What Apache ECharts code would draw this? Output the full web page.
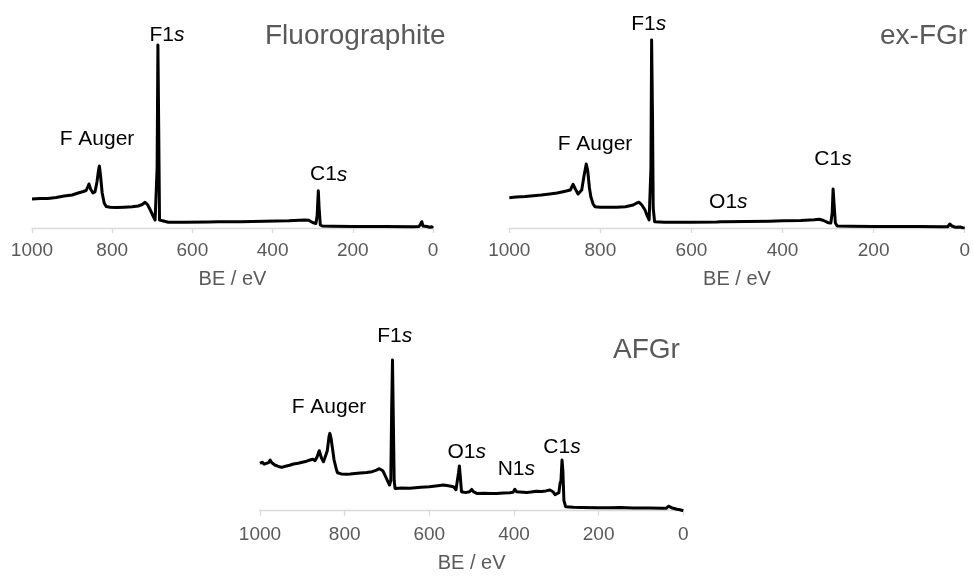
<!DOCTYPE html>
<html>
<head>
<meta charset="utf-8">
<script src="https://cdn.jsdelivr.net/npm/echarts@6/dist/echarts.min.js"></script>
<style>
  html, body { margin: 0; padding: 0; background: #fff; }
  #main { width: 973px; height: 576px; }
</style>
</head>
<body>
<div id="main"></div>
<script>
// XPS survey spectra, [BE (eV), intensity (a.u.)]
const fluorographite = [
  [1000, 29], [980, 29.5], [960, 29.5], [940, 30.5], [920, 32], [900, 33], [885, 35], [872, 36.5],
  [865, 37.5], [861, 41], [858, 44], [854, 39], [848, 35], [843, 36], [838, 46], [834, 58], [832, 62],
  [829, 52], [825, 35], [820, 25], [815, 21.5], [805, 20.7], [790, 20.5], [770, 20.8], [750, 21.2],
  [735, 22], [725, 23.5], [718, 25.7], [712, 23.5], [705, 18], [698, 12], [693, 8], [690, 10],
  [688, 60], [686, 183], [684, 100], [682, 8], [679, 6.3], [660, 5.8], [620, 5.8], [560, 6],
  [535, 6.2], [531, 7.5], [527, 6.2], [480, 6.3], [420, 6.8], [360, 7.3], [320, 8], [310, 7.8],
  [300, 5.5], [292, 4.5], [289, 12], [286, 37.3], [284, 20], [281, 3], [276, 2], [250, 1.8],
  [200, 1.6], [120, 1.4], [50, 1.3], [35, 1.5], [31, 4], [28, 6.3], [25, 2], [15, 1.5], [8, 0.8],
  [3, 1.2], [0, 0]
]
const exFGr = [
  [1000, 30.3], [985, 31], [965, 31.5], [947, 32.3], [930, 33], [911, 34], [895, 35], [882, 36.3],
  [875, 37], [871, 35.3], [866, 38], [860, 43.7], [855, 39], [849, 34], [846, 33], [841, 38],
  [836, 52], [831, 64], [828, 58], [824, 40], [821, 31.3], [816, 24], [812, 21.3], [800, 20.8],
  [780, 20.7], [764, 20.7], [745, 21.3], [728, 23], [720, 25], [715, 25.7], [709, 23], [702, 18],
  [697, 12], [693, 8], [691, 9], [689, 60], [687.5, 188], [685.5, 110], [684, 20], [681, 6.3],
  [660, 5.8], [640, 5.7], [600, 5.8], [545, 6], [535, 6.3], [531, 7.5], [527, 6.2], [480, 6.5],
  [428, 6.8], [400, 7.2], [360, 7.6], [330, 8.3], [319, 8.7], [310, 7.5], [300, 5.3], [294, 5],
  [291, 15], [289, 39], [287, 25], [284, 5], [280, 2], [250, 1.8], [200, 1.6], [150, 1.5],
  [100, 1.4], [50, 1.3], [37, 1.3], [33, 4], [31, 5.7], [28, 2], [20, 0.7], [10, 1], [5, 0.3], [0, 0]
]
const afgr = [
  [1000, 47.3], [995, 48.5], [990, 46.5], [986, 46.7], [980, 48], [976, 50.7], [972, 48], [965, 45.7],
  [958, 44.5], [949, 43.3], [940, 44.5], [930, 45.5], [921, 46.7], [910, 47.5], [900, 48.5],
  [890, 49.5], [882, 50.7], [875, 51.5], [870, 50], [865, 54], [860, 60], [855, 53], [850, 49],
  [846, 48], [841, 60], [837, 74], [835, 77.3], [832, 72], [828, 60], [825, 50.7], [820, 42],
  [817, 38], [808, 36.8], [795, 36.5], [787, 36.7], [770, 37.5], [748, 38.3], [735, 39], [725, 40.5],
  [718, 42], [715, 42.3], [710, 40], [705, 35.7], [700, 31], [694, 25.7], [691, 30], [689, 100],
  [687, 150.7], [685, 90], [683, 30], [681, 22.3], [665, 22.8], [646, 22.5], [620, 23.5], [600, 24],
  [580, 25], [567, 25.7], [555, 25], [543, 24], [537, 21], [534, 22], [531, 38], [529, 44.7],
  [527, 35], [524, 19], [518, 18.5], [512, 18.3], [505, 19], [500, 21.3], [496, 19], [488, 17.3],
  [470, 17.5], [455, 17.3], [441, 17.3], [425, 17.6], [410, 18], [402, 18.5], [398, 21.3], [394, 19],
  [390, 18], [370, 18.3], [360, 18.6], [347, 19.5], [335, 19.3], [325, 19.8], [315, 20.7], [308, 19],
  [303, 16], [299, 14], [294, 18], [291, 27.4], [289, 30], [286.5, 50.7], [284.5, 40], [282, 10],
  [278, 4], [260, 3.5], [240, 3.3], [200, 3], [173, 3], [150, 3.2], [120, 2.8], [80, 2.6], [50, 2.4],
  [40, 2.4], [35, 4.5], [32, 5.7], [28, 3], [24, 2], [15, 1.5], [8, 1], [0, 0]
]
const sampleNames = ['Fluorographite', 'ex-FGr', 'AFGr']
const beTicks = [0, 200, 400, 600, 800, 1000]

const font = 'Arial, "Liberation Sans", Helvetica, sans-serif'
const grey = '#595959'

const chart = echarts.init(document.getElementById('main'))

function xAxis(gridIndex, labelMargin, nameGap) {
  return {
    gridIndex,
    type: 'value',
    min: beTicks[0],
    max: beTicks[beTicks.length - 1],
    interval: beTicks[1] - beTicks[0],
    inverse: true,
    name: 'BE / eV',
    nameLocation: 'middle',
    nameGap,
    nameTextStyle: { color: grey, fontSize: 20, fontFamily: font },
    axisLine: { lineStyle: { color: '#d9d9d9', width: 1.3 } },
    axisTick: { show: true, length: 5, lineStyle: { color: '#d9d9d9', width: 1.3 } },
    axisLabel: {
      color: grey, fontSize: 19, fontFamily: font, margin: labelMargin,
      formatter: (v) => String(v),
    },
    splitLine: { show: false },
  }
}

function yAxis(gridIndex) {
  return { gridIndex, type: 'value', min: 0, max: 200, show: false }
}

function spectrum(idx, data) {
  return {
    type: 'line',
    xAxisIndex: idx,
    yAxisIndex: idx,
    data,
    showSymbol: false,
    symbol: 'none',
    lineStyle: { color: '#000', width: 3, join: 'round' },
    silent: true,
    animation: false,
  }
}

// peak annotation, the orbital letter in italics
const rich = {
  n: { fontSize: 21, fontFamily: font, color: '#000' },
  i: { fontSize: 21, fontFamily: font, color: '#000', fontStyle: 'italic' },
}
function peak(name, orbital, x, y) {
  return {
    type: 'text',
    x,
    y,
    style: {
      text: orbital ? `{n|${name}}{i|${orbital}}` : `{n|${name}}`,
      rich,
      align: 'center',
      verticalAlign: 'middle',
    },
  }
}
function sampleTitle(text, x, y) {
  return {
    type: 'text',
    x,
    y,
    style: { text, fill: grey, font: `28px ${font}`, align: 'left', verticalAlign: 'middle' },
  }
}

const option = {
  backgroundColor: '#fff',
  animation: false,
  grid: [
    { left: 32, top: 28, width: 401, height: 200 },
    { left: 509.3, top: 28, width: 456, height: 200 },
    { left: 260, top: 310.7, width: 423.3, height: 200 },
  ],
  xAxis: [xAxis(0, 13, 41), xAxis(1, 13, 41), xAxis(2, 15, 43)],
  yAxis: [yAxis(0), yAxis(1), yAxis(2)],
  series: [spectrum(0, fluorographite), spectrum(1, exFGr), spectrum(2, afgr)],
  graphic: [
    sampleTitle(sampleNames[0], 265, 36),
    sampleTitle(sampleNames[1], 880, 36),
    sampleTitle(sampleNames[2], 613, 350),

    peak('F1', 's', 167, 35.5),
    peak('F Auger', '', 97, 139),
    peak('C1', 's', 328.7, 174.7),

    peak('F1', 's', 648.7, 24),
    peak('F Auger', '', 595, 144),
    peak('O1', 's', 728.3, 202.5),
    peak('C1', 's', 833, 159),

    peak('F1', 's', 394.7, 335.8),
    peak('F Auger', '', 329, 406.8),
    peak('O1', 's', 466.7, 452.5),
    peak('N1', 's', 516.3, 469),
    peak('C1', 's', 562, 446.8),
  ],
}

chart.setOption(option)
</script>
</body>
</html>
